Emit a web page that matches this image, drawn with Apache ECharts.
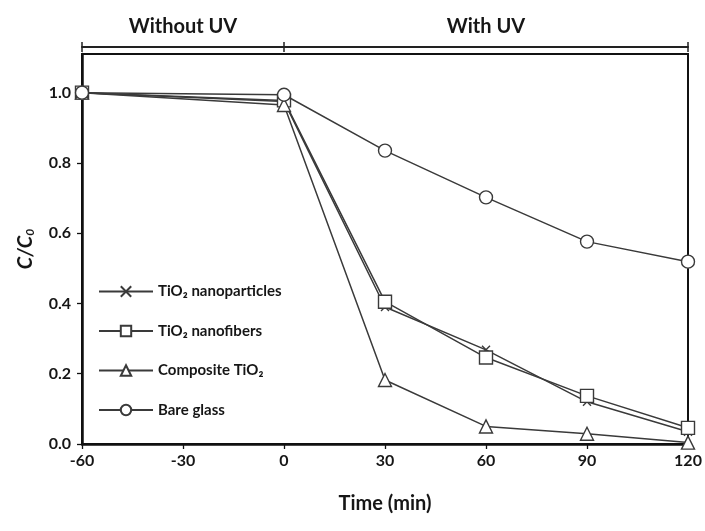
<!DOCTYPE html>
<html>
<head>
<meta charset="utf-8">
<script src="https://cdn.jsdelivr.net/npm/echarts@6/dist/echarts.min.js"></script>
<style>
  html, body { margin: 0; padding: 0; background: #fff; }
  #chart { width: 705px; height: 531px; }
</style>
</head>
<body>
<div id="chart"></div>
<script>
const time = [-60, 0, 30, 60, 90, 120]
const nanoparticles = [1.0, 0.975, 0.39, 0.268, 0.12, 0.035]
const nanofibers = [1.0, 0.978, 0.405, 0.246, 0.137, 0.046]
const composite = [1.0, 0.965, 0.182, 0.05, 0.029, 0.004]
const bareGlass = [1.0, 0.994, 0.835, 0.702, 0.576, 0.519]
const xTicks = [-60, -30, 0, 30, 60, 90, 120]
const yTicks = [0, 0.2, 0.4, 0.6, 0.8, 1.0]
const phaseBounds = [-60, 0, 120]
const phaseCenters = [-30, 60]
const phaseNames = ['Without UV', 'With UV']

const FONT = 'Lato'
const INK = '#161616'
const LINE = '#3a3a3a'

const pairs = (vals) => time.map((t, i) => [t, vals[i]])

// cross marker, drawn as stroke only
const crossPath = 'path://M0,0L10,10M10,0L0,10'

function lineSeries(name, vals, symbol, size) {
  return {
    name: name,
    type: 'line',
    data: pairs(vals),
    symbol: symbol,
    symbolSize: size,
    showAllSymbol: true,
    lineStyle: { color: LINE, width: 1.5 },
    itemStyle: { color: '#fff', borderColor: LINE, borderWidth: 1.4 },
    emphasis: { disabled: true },
    animation: false,
  }
}

const myChart = echarts.init(document.getElementById('chart'))
myChart.setOption({
  animation: false,
  textStyle: { fontFamily: FONT },
  grid: {
    left: 82,
    right: 17,
    top: 54,
    bottom: 87,
    show: true,
    borderColor: '#111',
    borderWidth: 2,
  },
  legend: {
    orient: 'vertical',
    left: 98,
    top: 284,
    padding: 0,
    itemWidth: 54,
    itemHeight: 13,
    itemGap: 24.5,
    textStyle: { fontFamily: FONT, fontWeight: 'bold', fontSize: 15, color: INK },
    data: ['TiO₂ nanoparticles', 'TiO₂ nanofibers', 'Composite TiO₂', 'Bare glass'],
  },
  xAxis: [
    {
      type: 'value',
      min: -60,
      max: 120,
      interval: 30,
      name: 'Time (min)',
      nameLocation: 'middle',
      nameGap: 50,
      nameTextStyle: { fontFamily: FONT, fontWeight: 'bold', fontSize: 20, color: INK },
      axisLine: { onZero: false, lineStyle: { color: '#111', width: 2.5 } },
      axisTick: { show: true, inside: false, length: 5, lineStyle: { color: '#111', width: 1.3 } },
      axisLabel: {
        margin: 9,
        fontFamily: FONT,
        fontWeight: 'bold',
        fontSize: 16,
        color: INK,
        customValues: xTicks,
      },
      splitLine: { show: false },
    },
    // phase bar above the plot: line with outward ticks + labels
    {
      type: 'value',
      position: 'top',
      offset: 7,
      min: -60,
      max: 120,
      axisLine: { show: true, onZero: false, lineStyle: { color: '#222', width: 2 } },
      axisTick: { show: true, inside: false, length: 5, customValues: phaseBounds, lineStyle: { color: '#222', width: 1.5 } },
      axisLabel: {
        show: true,
        margin: 10,
        fontFamily: FONT,
        fontWeight: 'bold',
        fontSize: 20,
        color: INK,
        customValues: phaseCenters,
        formatter: (v) => phaseNames[phaseCenters.indexOf(v)],
      },
      splitLine: { show: false },
    },
    // same bar, inward half of the ticks
    {
      type: 'value',
      position: 'top',
      offset: 7,
      min: -60,
      max: 120,
      axisLine: { show: false, onZero: false },
      axisTick: { show: true, inside: true, length: 5, customValues: phaseBounds, lineStyle: { color: '#222', width: 1.5 } },
      axisLabel: { show: false },
      splitLine: { show: false },
    },
  ],
  yAxis: {
    type: 'value',
    min: 0,
    max: 1.11,
    name: '{i|C/C}{sub|0}',
    nameLocation: 'middle',
    nameGap: 46,
    nameTextStyle: {
      rich: {
        i: { fontFamily: FONT, fontWeight: 'bold', fontStyle: 'italic', fontSize: 20, color: INK },
        sub: { fontFamily: FONT, fontWeight: 'bold', fontStyle: 'italic', fontSize: 12, color: INK, padding: [9, 0, 0, 0] },
      },
    },
    axisLine: { show: true, onZero: false, lineStyle: { color: '#111', width: 2.5 } },
    axisTick: { show: true, inside: false, length: 5, customValues: yTicks, lineStyle: { color: '#111', width: 1.3 } },
    axisLabel: {
      margin: 11,
      fontFamily: FONT,
      fontWeight: 'bold',
      fontSize: 16,
      color: INK,
      customValues: yTicks,
      formatter: (v) => v.toFixed(1),
    },
    splitLine: { show: false },
  },
  series: [
    lineSeries('TiO₂ nanoparticles', nanoparticles, crossPath, 8),
    lineSeries('TiO₂ nanofibers', nanofibers, 'rect', 13),
    lineSeries('Composite TiO₂', composite, 'triangle', 13),
    lineSeries('Bare glass', bareGlass, 'circle', 13),
  ],
})
</script>
</body>
</html>
